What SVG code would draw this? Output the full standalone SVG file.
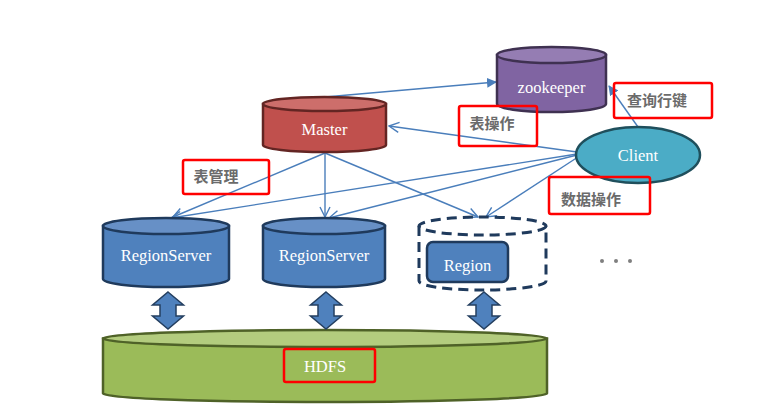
<svg xmlns="http://www.w3.org/2000/svg" width="780" height="419" viewBox="0 0 780 419">
<defs>
<style>
.lbl{font-family:"Liberation Serif","Times New Roman",serif;font-size:16.5px;fill:#ffffff;text-anchor:middle}
.cn{font-family:"Noto Sans CJK SC","Noto Sans",sans-serif;font-size:15px;font-weight:bold;fill:#6b6b6b;text-anchor:middle}
.box{fill:none;stroke:#ff0000;stroke-width:2.5}
.conn{fill:none;stroke:#4a7ebb;stroke-width:1.4}
.darr{fill:#4f81bd;stroke:#243f60;stroke-width:1.5}
</style>
<marker id="ah" viewBox="0 0 12 12" refX="11" refY="6" markerWidth="12" markerHeight="12" markerUnits="userSpaceOnUse" orient="auto">
<path d="M1,1 L11,6 L1,11" fill="none" stroke="#4a7ebb" stroke-width="1.4"/>
</marker>
<marker id="ahf" viewBox="0 0 10 10" refX="9" refY="5" markerWidth="10" markerHeight="10" markerUnits="userSpaceOnUse" orient="auto">
<path d="M0,0 L10,5 L0,10 Z" fill="#4a7ebb"/>
</marker>
<path id="dbl" d="M0,-18.5 L15.5,-5.5 L8,-5.5 L8,5.5 L15.5,5.5 L0,18.5 L-15.5,5.5 L-8,5.5 L-8,-5.5 L-15.5,-5.5 Z"/>
</defs>
<rect width="780" height="419" fill="#ffffff"/>

<g id="connectors">
<line class="conn" x1="325" y1="97" x2="496" y2="82" marker-end="url(#ahf)"/>
<line class="conn" x1="577" y1="152" x2="389" y2="126" marker-end="url(#ah)"/>
<line class="conn" x1="638" y1="127" x2="609" y2="86" marker-end="url(#ahf)"/>
<line class="conn" x1="325" y1="153" x2="173" y2="217" marker-end="url(#ah)"/>
<line class="conn" x1="325" y1="153" x2="325" y2="217" marker-end="url(#ah)"/>
<line class="conn" x1="325" y1="153" x2="478" y2="217" marker-end="url(#ah)"/>
<line class="conn" x1="577" y1="154" x2="171" y2="218" marker-end="url(#ah)"/>
<line class="conn" x1="577" y1="155" x2="329" y2="218" marker-end="url(#ah)"/>
<line class="conn" x1="578" y1="157" x2="486" y2="217" marker-end="url(#ah)"/>
</g>

<g id="master">
<path d="M263,104 L263,145 A61.5,7 0 0 0 386,145 L386,104 Z" fill="#c0504d" stroke="#632523" stroke-width="2.5"/>
<ellipse cx="324.5" cy="104" rx="61.5" ry="7" fill="#cd6e6b" stroke="#632523" stroke-width="2.5"/>
<text class="lbl" x="324.5" y="135">Master</text>
</g>

<g id="zookeeper">
<path d="M497,55 L497,104 A54.5,8 0 0 0 606,104 L606,55 Z" fill="#8064a2" stroke="#3f3151" stroke-width="2.5"/>
<ellipse cx="551.5" cy="55" rx="54.5" ry="8" fill="#957db3" stroke="#3f3151" stroke-width="2.5"/>
<text class="lbl" x="551.5" y="93">zookeeper</text>
</g>

<g id="client">
<ellipse cx="638" cy="155" rx="62" ry="28" fill="#4bacc6" stroke="#1f4f5c" stroke-width="2.5"/>
<text class="lbl" x="638" y="161">Client</text>
</g>

<g id="rs1">
<path d="M103,226 L103,279 A63,8 0 0 0 229,279 L229,226 Z" fill="#4f81bd" stroke="#1f3a5c" stroke-width="2.5"/>
<ellipse cx="166" cy="226" rx="63" ry="8" fill="#6790c6" stroke="#1f3a5c" stroke-width="2.5"/>
<text class="lbl" x="166" y="261">RegionServer</text>
</g>

<g id="rs2">
<path d="M263,226 L263,279 A61,8 0 0 0 385,279 L385,226 Z" fill="#4f81bd" stroke="#1f3a5c" stroke-width="2.5"/>
<ellipse cx="324" cy="226" rx="61" ry="8" fill="#6790c6" stroke="#1f3a5c" stroke-width="2.5"/>
<text class="lbl" x="324" y="261">RegionServer</text>
</g>

<g id="region">
<path d="M419,226 L419,281 A63.5,9 0 0 0 546,281 L546,226" fill="none" stroke="#1f3a5c" stroke-width="3" stroke-dasharray="10,6"/>
<ellipse cx="482.5" cy="226" rx="63.5" ry="9" fill="none" stroke="#1f3a5c" stroke-width="3" stroke-dasharray="10,6"/>
<rect x="427" y="242" width="81" height="40" rx="6" fill="#4f81bd" stroke="#1f3a5c" stroke-width="2.5"/>
<text class="lbl" x="467.5" y="271">Region</text>
</g>

<g id="dots" fill="#7f7f7f">
<circle cx="602" cy="261" r="2"/>
<circle cx="616" cy="261" r="2"/>
<circle cx="630" cy="261" r="2"/>
</g>

<g id="hdfs">
<path d="M103,338.5 L103,393.5 A222,8.5 0 0 0 547,393.5 L547,338.5 Z" fill="#9bbb59" stroke="#4f6228" stroke-width="2.5"/>
<ellipse cx="325" cy="338.5" rx="222" ry="8.5" fill="#b3cc7e" stroke="#4f6228" stroke-width="2.5"/>
<text class="lbl" x="325" y="372">HDFS</text>
</g>

<g id="io-arrows">
<use href="#dbl" class="darr" x="168" y="310.5"/>
<use href="#dbl" class="darr" x="326" y="310.5"/>
<use href="#dbl" class="darr" x="484" y="310.5"/>
</g>

<g id="labels">
<rect class="box" x="183" y="160" width="86" height="34" rx="2"/>
<text class="cn" x="216" y="182">表管理</text>
<rect class="box" x="459" y="106" width="78" height="40" rx="2"/>
<text class="cn" x="492" y="129">表操作</text>
<rect class="box" x="614" y="83" width="98" height="35" rx="2"/>
<text class="cn" x="657" y="106">查询行键</text>
<rect class="box" x="549" y="177" width="101" height="37" rx="2"/>
<text class="cn" x="591" y="205">数据操作</text>
<rect class="box" x="284" y="349" width="91" height="33" rx="2"/>
</g>
</svg>
